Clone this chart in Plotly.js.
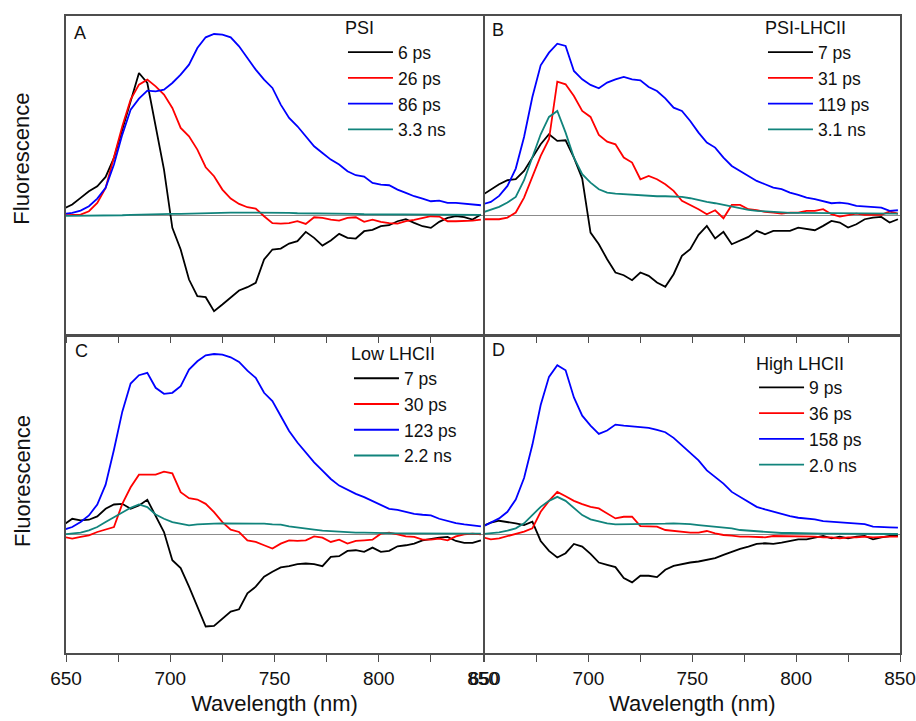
<!DOCTYPE html>
<html>
<head>
<meta charset="utf-8">
<script src="https://cdn.plot.ly/plotly-3.0.1.min.js"></script>
<style>
  html, body { margin: 0; padding: 0; background: #fff; }
  #chart { width: 916px; height: 721px; }
</style>
</head>
<body>
<div id="chart"></div>
<script>
// Shared wavelength grid (nm)
const wavelength = [649, 653, 657, 661, 665, 669, 673, 677, 681, 685, 689, 693, 697, 701, 705, 709, 713, 717, 721, 725,
  729, 733, 737, 741, 745, 749, 753, 757, 761, 765, 769, 773, 777, 781, 785, 789, 793, 797, 801, 805,
  809, 813, 817, 821, 825, 829, 833, 837, 841, 845, 849];

// Panel A: PSI
const psiLabels = ["6 ps", "26 ps", "86 ps", "3.3 ns"];
const psi6ps = [0.20, 0.32, 0.52, 0.72, 0.87, 1.15, 1.72, 2.57, 3.37, 4.27, 3.97, 2.67, 1.37, -0.38, -1.03, -1.93, -2.43, -2.46, -2.88, -2.68,
  -2.48, -2.26, -2.16, -2.03, -1.33, -1.03, -1.00, -0.85, -0.78, -0.50, -0.68, -0.91, -0.76, -0.56, -0.68, -0.70, -0.48, -0.44, -0.33, -0.30,
  -0.18, -0.12, -0.23, -0.33, -0.38, -0.20, -0.08, -0.03, -0.06, -0.13, 0.02];
const psi26ps = [0.0, 0.0, 0.02, 0.12, 0.37, 0.82, 1.72, 2.67, 3.47, 3.92, 4.07, 3.87, 3.62, 3.22, 2.62, 2.37, 1.97, 1.44, 1.17, 0.77,
  0.50, 0.34, 0.24, 0.20, -0.03, -0.24, -0.25, -0.24, -0.18, -0.26, -0.06, -0.08, -0.13, -0.16, -0.08, -0.06, -0.20, -0.13, -0.20, -0.24,
  -0.25, -0.18, -0.14, -0.08, -0.03, -0.04, -0.18, -0.18, -0.18, -0.16, -0.13];
const psi86ps = [0.04, 0.07, 0.14, 0.27, 0.50, 0.82, 1.52, 2.42, 3.17, 3.50, 3.74, 3.72, 3.77, 3.97, 4.22, 4.52, 5.02, 5.34, 5.44, 5.42,
  5.34, 5.07, 4.72, 4.37, 4.07, 3.82, 3.32, 2.92, 2.67, 2.37, 2.07, 1.87, 1.67, 1.52, 1.32, 1.20, 1.16, 0.97, 0.92, 0.90,
  0.77, 0.67, 0.57, 0.50, 0.42, 0.44, 0.37, 0.37, 0.34, 0.32, 0.30];
const psi33ns = [-0.02, -0.02, -0.02, -0.02, -0.01, -0.01, 0.0, 0.0, 0.01, 0.02, 0.02, 0.03, 0.03, 0.04, 0.04, 0.05, 0.06, 0.07, 0.07, 0.08,
  0.08, 0.08, 0.08, 0.09, 0.08, 0.08, 0.07, 0.07, 0.06, 0.06, 0.06, 0.05, 0.05, 0.05, 0.04, 0.04, 0.03, 0.03, 0.03, 0.03,
  0.02, 0.02, 0.02, 0.02, 0.01, 0.01, 0.01, 0.01, 0.01, 0.01, 0.01];

// Panel B: PSI-LHCII
const psiLhcLabels = ["7 ps", "31 ps", "119 ps", "3.1 ns"];
const psiLhc7ps = [0.61, 0.78, 0.93, 1.05, 1.08, 1.33, 1.73, 2.13, 2.43, 2.23, 2.25, 1.73, 1.10, -0.52, -0.87, -1.32, -1.72, -1.80, -1.95, -1.72,
  -1.82, -2.02, -2.15, -1.77, -1.22, -1.02, -0.59, -0.32, -0.70, -0.50, -0.87, -0.75, -0.65, -0.47, -0.57, -0.47, -0.47, -0.47, -0.37, -0.42,
  -0.45, -0.32, -0.17, -0.22, -0.37, -0.27, -0.12, -0.07, -0.05, -0.22, -0.12];
const psiLhc31ps = [-0.12, -0.12, -0.12, -0.07, 0.08, 0.53, 1.18, 1.78, 2.28, 4.01, 3.93, 3.58, 3.13, 2.95, 2.41, 2.21, 2.13, 1.73, 1.58, 1.08,
  1.18, 1.08, 0.93, 0.73, 0.43, 0.31, 0.18, 0.03, 0.15, -0.09, 0.31, 0.31, 0.18, 0.15, 0.10, 0.08, 0.05, 0.08, 0.08, 0.13,
  0.13, 0.18, 0.03, -0.04, 0.01, 0.05, 0.01, 0.01, 0.01, 0.11, 0.05];
const psiLhc119ps = [0.33, 0.40, 0.58, 0.88, 1.40, 2.35, 3.55, 4.50, 4.88, 5.15, 5.08, 4.33, 4.08, 3.91, 3.81, 3.98, 4.08, 4.15, 4.08, 4.05,
  3.85, 3.73, 3.51, 3.23, 3.13, 2.83, 2.48, 2.18, 2.03, 1.73, 1.48, 1.33, 1.18, 1.03, 0.93, 0.83, 0.78, 0.68, 0.61, 0.53,
  0.48, 0.43, 0.36, 0.38, 0.35, 0.28, 0.27, 0.25, 0.23, 0.13, 0.15];
const psiLhc31ns = [0.08, 0.16, 0.25, 0.38, 0.55, 1.05, 1.75, 2.43, 2.95, 3.13, 2.48, 1.73, 1.23, 0.98, 0.78, 0.68, 0.65, 0.63, 0.61, 0.59,
  0.58, 0.57, 0.57, 0.57, 0.55, 0.51, 0.45, 0.40, 0.36, 0.31, 0.25, 0.20, 0.16, 0.13, 0.11, 0.09, 0.08, 0.07, 0.07, 0.07,
  0.07, 0.06, 0.06, 0.06, 0.06, 0.05, 0.05, 0.05, 0.05, 0.05, 0.05];

// Panel C: Low LHCII
const lowLabels = ["7 ps", "30 ps", "123 ps", "2.2 ns"];
const low7ps = [0.29, 0.47, 0.42, 0.44, 0.54, 0.77, 0.90, 0.92, 0.77, 0.87, 1.04, 0.57, 0.07, -0.78, -1.02, -1.58, -2.18, -2.78, -2.76, -2.53,
  -2.33, -2.26, -1.78, -1.58, -1.28, -1.13, -1.00, -0.96, -0.90, -0.88, -0.90, -0.96, -0.68, -0.66, -0.50, -0.48, -0.53, -0.40, -0.53, -0.50,
  -0.36, -0.33, -0.28, -0.18, -0.13, -0.10, -0.08, -0.20, -0.26, -0.26, -0.18];
const low30ps = [-0.08, -0.13, -0.08, -0.03, 0.07, 0.14, 0.22, 0.92, 1.42, 1.80, 1.80, 1.80, 1.89, 1.84, 1.27, 1.09, 1.05, 0.92, 0.67, 0.37,
  0.14, 0.07, -0.18, -0.23, -0.33, -0.43, -0.28, -0.18, -0.20, -0.18, -0.06, -0.10, -0.23, -0.16, -0.28, -0.20, -0.18, -0.16, 0.02, 0.05,
  0.0, -0.06, -0.08, -0.16, -0.16, -0.13, -0.18, -0.06, 0.0, 0.02, 0.0];
const low123ps = [0.14, 0.22, 0.37, 0.57, 0.90, 1.50, 2.55, 3.70, 4.55, 4.80, 4.87, 4.42, 4.24, 4.27, 4.47, 4.97, 5.22, 5.40, 5.44, 5.42,
  5.34, 5.20, 4.94, 4.72, 4.27, 4.02, 3.57, 3.12, 2.77, 2.47, 2.17, 1.92, 1.67, 1.47, 1.34, 1.22, 1.12, 1.00, 0.87, 0.77,
  0.74, 0.67, 0.62, 0.59, 0.57, 0.47, 0.40, 0.34, 0.30, 0.27, 0.24];
const low22ns = [0.0, 0.02, 0.05, 0.12, 0.22, 0.37, 0.52, 0.67, 0.80, 0.90, 0.82, 0.60, 0.47, 0.37, 0.32, 0.27, 0.30, 0.32, 0.32, 0.33,
  0.33, 0.34, 0.34, 0.34, 0.32, 0.30, 0.29, 0.24, 0.20, 0.17, 0.14, 0.11, 0.09, 0.07, 0.06, 0.05, 0.05, 0.04, 0.04, 0.04,
  0.03, 0.03, 0.03, 0.03, 0.02, 0.02, 0.02, 0.02, 0.02, 0.02, 0.02];

// Panel D: High LHCII
const highLabels = ["9 ps", "36 ps", "158 ps", "2.0 ns"];
const high9ps = [0.25, 0.35, 0.41, 0.38, 0.33, 0.28, 0.38, -0.20, -0.50, -0.70, -0.57, -0.29, -0.37, -0.59, -0.85, -0.92, -0.99, -1.32, -1.45, -1.25,
  -1.25, -1.29, -1.07, -0.95, -0.89, -0.85, -0.82, -0.77, -0.72, -0.62, -0.52, -0.44, -0.37, -0.29, -0.27, -0.29, -0.25, -0.19, -0.15, -0.15,
  -0.09, -0.05, -0.12, -0.07, -0.12, -0.07, -0.05, -0.15, -0.09, -0.05, -0.05];
const high36ps = [-0.09, -0.15, -0.12, -0.05, 0.01, 0.08, 0.18, 0.68, 1.01, 1.28, 1.15, 1.01, 0.91, 0.83, 0.78, 0.63, 0.48, 0.53, 0.53, 0.25,
  0.23, 0.23, 0.13, 0.10, 0.08, 0.05, 0.05, 0.10, 0.03, -0.02, -0.04, -0.07, -0.07, -0.07, -0.09, -0.05, -0.05, -0.07, -0.07, -0.07,
  -0.07, -0.09, -0.09, -0.12, -0.09, -0.09, -0.07, -0.09, -0.07, -0.07, -0.07];
const high158ps = [0.23, 0.35, 0.48, 0.68, 1.05, 1.70, 2.70, 3.90, 4.75, 5.10, 4.95, 4.13, 3.58, 3.28, 3.03, 3.13, 3.31, 3.28, 3.26, 3.25,
  3.21, 3.15, 3.08, 2.91, 2.68, 2.43, 2.23, 1.93, 1.73, 1.53, 1.28, 1.13, 0.98, 0.83, 0.75, 0.68, 0.61, 0.55, 0.50, 0.48,
  0.45, 0.40, 0.38, 0.38, 0.35, 0.33, 0.31, 0.23, 0.21, 0.21, 0.20];
const high20ns = [0.01, 0.03, 0.06, 0.11, 0.18, 0.33, 0.58, 0.83, 1.01, 1.13, 1.01, 0.78, 0.58, 0.45, 0.38, 0.33, 0.30, 0.30, 0.30, 0.30,
  0.30, 0.31, 0.32, 0.33, 0.33, 0.31, 0.28, 0.26, 0.23, 0.20, 0.18, 0.13, 0.11, 0.08, 0.06, 0.05, 0.04, 0.04, 0.03, 0.03,
  0.03, 0.02, 0.02, 0.02, 0.02, 0.01, 0.01, 0.01, 0.01, 0.01, 0.01];

const panelTitles = ["PSI", "PSI-LHCII", "Low LHCII", "High LHCII"];
const panelLetters = ["A", "B", "C", "D"];
const xTickVals = [650, 700, 750, 800, 850];

const colors = ["#000000", "#ff0000", "#0000ff", "#11847c"];
const FONT = "Liberation Sans, Arial, Helvetica, sans-serif";

const panels = [
  { series: [psi6ps, psi26ps, psi86ps, psi33ns], labels: psiLabels, xa: "x", ya: "y", leg: "legend" },
  { series: [psiLhc7ps, psiLhc31ps, psiLhc119ps, psiLhc31ns], labels: psiLhcLabels, xa: "x2", ya: "y2", leg: "legend2" },
  { series: [low7ps, low30ps, low123ps, low22ns], labels: lowLabels, xa: "x3", ya: "y3", leg: "legend3" },
  { series: [high9ps, high36ps, high158ps, high20ns], labels: highLabels, xa: "x4", ya: "y4", leg: "legend4" }
];

const traces = [];
panels.forEach(p => {
  p.series.forEach((vals, i) => {
    traces.push({
      type: "scatter", mode: "lines",
      x: wavelength, y: vals,
      xaxis: p.xa, yaxis: p.ya,
      name: p.labels[i], legend: p.leg,
      line: { color: colors[i], width: 1.8 },
      hoverinfo: "x+y+name"
    });
  });
});

const axisColor = "#4d4d4d";
const LW = 1.6;
// small domain offsets so that shared borders of neighbouring panels coincide
const dx = LW / 834;
const dy = LW / 638;

function xAxis(domain, anchor, showLabels) {
  return {
    domain: domain, anchor: anchor, range: [650, 850],
    showline: true, linecolor: axisColor, linewidth: LW, mirror: true,
    showgrid: false, zeroline: false,
    tickmode: "array", tickvals: xTickVals,
    ticks: "outside", ticklen: 7, tickwidth: 1.2, tickcolor: axisColor,
    minor: { dtick: 25, tick0: 650, ticks: "outside", ticklen: 7, tickwidth: 1.2, tickcolor: axisColor, showgrid: false },
    showticklabels: showLabels,
    tickfont: { family: FONT, size: 19, color: "#111" },
    title: showLabels ? { text: "Wavelength (nm)", font: { family: FONT, size: 22, color: "#111" }, standoff: 8 } : { text: "" }
  };
}
function yAxis(domain, anchor) {
  return {
    domain: domain, anchor: anchor, range: [-3.58, 5.98],
    showline: true, linecolor: axisColor, linewidth: LW, mirror: true,
    showgrid: false, ticks: "", showticklabels: false,
    zeroline: true, zerolinecolor: "#8c8c8c", zerolinewidth: 1.3
  };
}

function legendBox(x, y, titleText) {
  return {
    x: x, y: y, xref: "paper", yref: "paper", xanchor: "left", yanchor: "top",
    bgcolor: "rgba(0,0,0,0)", borderwidth: 0,
    font: { family: FONT, size: 17.5, color: "#111" },
    title: { text: titleText, font: { family: FONT, size: 18, color: "#111" } },
    itemwidth: 45, tracegroupgap: 0, itemclick: false, itemdoubleclick: false
  };
}

const letterPos = [
  { xref: "x domain", yref: "y domain", x: 0.014, y: 0.985 },
  { xref: "x2 domain", yref: "y2 domain", x: 0.012, y: 0.995 },
  { xref: "x3 domain", yref: "y3 domain", x: 0.016, y: 0.992 },
  { xref: "x4 domain", yref: "y4 domain", x: 0.012, y: 0.995 }
];
const annotations = letterPos.map((p, i) => ({
  xref: p.xref, yref: p.yref, x: p.x, y: p.y, xanchor: "left", yanchor: "top",
  text: panelLetters[i], showarrow: false,
  font: { family: FONT, size: 18, color: "#111" }
}));
annotations.push(
  { xref: "paper", yref: "paper", x: -0.0528, y: 0.776, text: "Fluorescence", textangle: -90, showarrow: false,
    xanchor: "center", yanchor: "middle", font: { family: FONT, size: 22, color: "#111" } },
  { xref: "paper", yref: "paper", x: -0.0528, y: 0.270, text: "Fluorescence", textangle: -90, showarrow: false,
    xanchor: "center", yanchor: "middle", font: { family: FONT, size: 22, color: "#111" } }
);

const layout = {
  width: 916, height: 721,
  margin: { l: 66, r: 16, t: 15, b: 68 },
  paper_bgcolor: "#ffffff", plot_bgcolor: "#ffffff",
  font: { family: FONT, color: "#111" },
  showlegend: true,
  xaxis: xAxis([0, 0.5], "y", false),
  yaxis: yAxis([0.5, 1], "x"),
  xaxis2: xAxis([0.5 + dx, 1], "y2", false),
  yaxis2: yAxis([0.5, 1], "x2"),
  xaxis3: xAxis([0, 0.5], "y3", true),
  yaxis3: yAxis([0, 0.5 - dy], "x3"),
  xaxis4: xAxis([0.5 + dx, 1], "y4", true),
  yaxis4: yAxis([0, 0.5 - dy], "x4"),
  legend: legendBox(0.3321, 1.0064, panelTitles[0]),
  legend2: legendBox(0.8357, 1.0064, panelTitles[1]),
  legend3: legendBox(0.3393, 0.4953, panelTitles[2]),
  legend4: legendBox(0.825, 0.4809, panelTitles[3]),
  annotations: annotations
};

Plotly.newPlot("chart", traces, layout, { displayModeBar: false });
</script>
</body>
</html>
